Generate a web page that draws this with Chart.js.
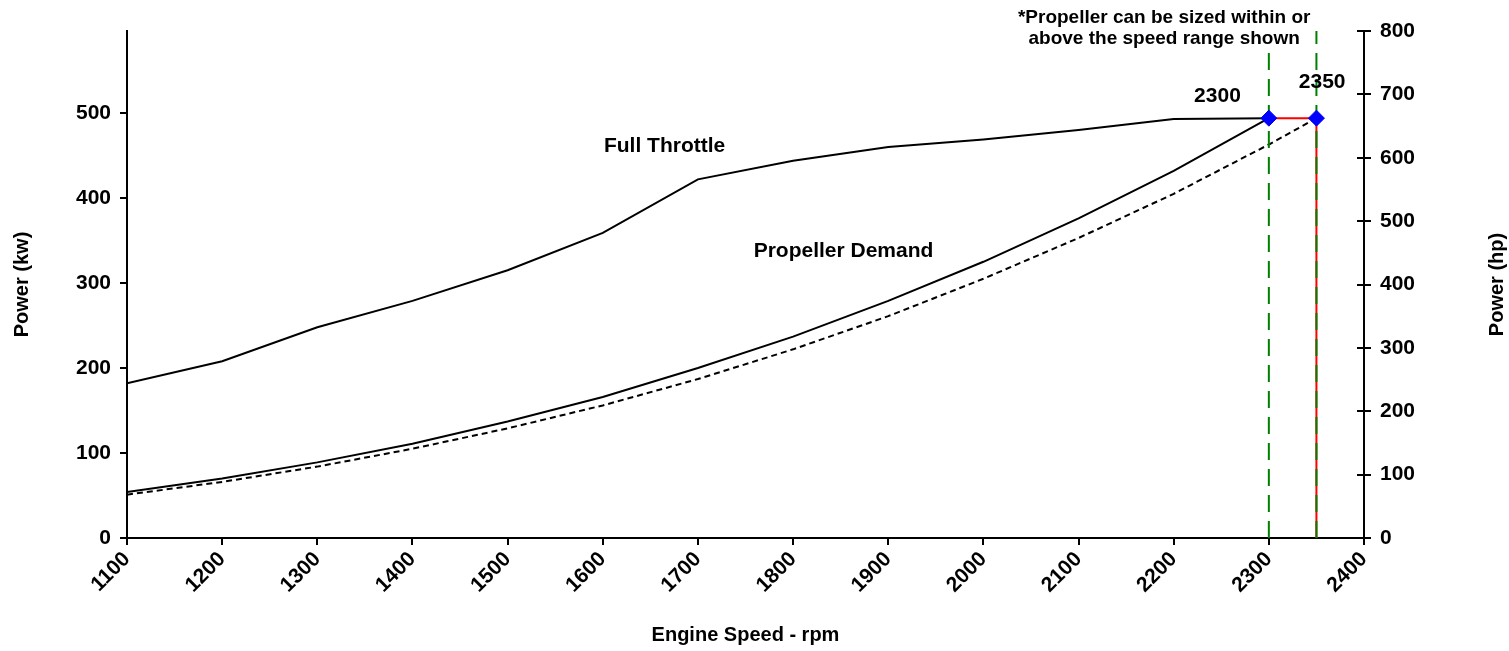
<!DOCTYPE html>
<html>
<head>
<meta charset="utf-8">
<title>Engine power curve</title>
<script src="https://cdn.jsdelivr.net/npm/chart.js@4/dist/chart.umd.min.js"></script>
<style>
    html, body { margin: 0; padding: 0; background: #fff; }
    #wrap { width: 1509px; height: 651px; }
</style>
</head>
<body>
<div id="wrap"><canvas id="chart" width="1509" height="651"></canvas></div>
<script>
// Engine speed (rpm) for the curves
const rpm = [1100, 1200, 1300, 1400, 1500, 1600, 1700, 1800, 1900, 2000, 2100, 2200, 2300];
const fullThrottleKw = [182, 208, 248, 279, 315, 359, 422, 444, 460, 469, 480, 493, 494];
const propDemandKw = [54, 70, 89, 111, 137, 166, 200, 237, 279, 325, 376, 432, 494];

// Propeller sized for 2350 rpm (dashed curve)
const propRpm2350 = [1100, 1200, 1300, 1400, 1500, 1600, 1700, 1800, 1900, 2000, 2100, 2200, 2300, 2350];
const propDemand2350Kw = [51, 66, 84, 105, 129, 156, 187, 222, 261, 305, 353, 405, 463, 494];

// Rated points and speed range limits
const ratedRpm = [2300, 2350];
const ratedKw = [494, 494];
const limitTopKw = [574, 597];

// Axis ticks
const xTicks = [1100, 1200, 1300, 1400, 1500, 1600, 1700, 1800, 1900, 2000, 2100, 2200, 2300, 2400];
const kwTicks = [0, 100, 200, 300, 400, 500];
const hpTicks = [0, 100, 200, 300, 400, 500, 600, 700, 800];
const KW_PER_HP = 0.7457;

const FONT = '"Liberation Sans", Arial, sans-serif';

function toPoints(xs, ys) {
    return xs.map((x, i) => ({ x: x, y: ys[i] }));
}

// Text placed in data coordinates
const textLabels = [
    { text: 'Full Throttle', rpm: 1665, kw: 461, size: 21 },
    { text: 'Propeller Demand', rpm: 1853, kw: 338, size: 21 },
    { text: '2300', rpm: 2246, kw: 520, size: 21 },
    { text: '2350', rpm: 2356, kw: 536, size: 21 },
    { text: '*Propeller can be sized within or', rpm: 2190, kw: 612, size: 19 },
    { text: 'above the speed range shown', rpm: 2190, kw: 588, size: 19 }
];

const overlayPlugin = {
    id: 'overlay',
    afterDraw(chart) {
        const ctx = chart.ctx;
        const area = chart.chartArea;
        const xs = chart.scales.x;
        const ys = chart.scales.y;
        const y2 = chart.scales.y2;

        ctx.save();
        // inner half of the right axis tick marks
        ctx.strokeStyle = '#000';
        ctx.lineWidth = 2;
        y2.ticks.forEach(t => {
            const py = Math.round(y2.getPixelForValue(t.value));
            ctx.beginPath();
            ctx.moveTo(area.right - 7, py);
            ctx.lineTo(area.right, py);
            ctx.stroke();
        });

        ctx.fillStyle = '#000';
        ctx.textAlign = 'center';
        ctx.textBaseline = 'middle';
        textLabels.forEach(l => {
            ctx.font = 'bold ' + l.size + 'px ' + FONT;
            ctx.fillText(l.text, xs.getPixelForValue(l.rpm), ys.getPixelForValue(l.kw));
        });

        // right axis title, reading bottom to top
        ctx.translate(1497, (area.top + area.bottom) / 2);
        ctx.rotate(-Math.PI / 2);
        ctx.font = 'bold 20px ' + FONT;
        ctx.fillText('Power (hp)', 0, 0);
        ctx.restore();
    }
};

const axisGrid = {
    display: true,
    drawOnChartArea: false,
    drawTicks: true,
    tickLength: 7,
    color: '#000',
    lineWidth: 2
};

const ctx = document.getElementById('chart').getContext('2d');
new Chart(ctx, {
    type: 'line',
    data: {
        datasets: [{
            label: 'Rated',
            data: toPoints(ratedRpm, ratedKw),
            showLine: false,
            pointStyle: 'rectRot',
            pointRadius: 8,
            pointBackgroundColor: '#0000FF',
            pointBorderColor: '#0000FF',
            pointBorderWidth: 1
        }, {
            label: 'Limit 2300',
            data: [{ x: ratedRpm[0], y: 0 }, { x: ratedRpm[0], y: limitTopKw[0] }],
            borderColor: '#008000',
            borderWidth: 2,
            borderDash: [17, 9],
            pointRadius: 0
        }, {
            label: 'Limit 2350',
            data: [{ x: ratedRpm[1], y: 0 }, { x: ratedRpm[1], y: limitTopKw[1] }],
            borderColor: '#008000',
            borderWidth: 2,
            borderDash: [17, 9],
            pointRadius: 0
        }, {
            label: 'Range',
            data: [{ x: ratedRpm[0], y: ratedKw[0] }, { x: ratedRpm[1], y: ratedKw[1] }, { x: ratedRpm[1], y: 0 }],
            borderColor: '#FF0000',
            borderWidth: 2,
            pointRadius: 0
        }, {
            label: 'Propeller Demand 2350',
            data: toPoints(propRpm2350, propDemand2350Kw),
            borderColor: '#000',
            borderWidth: 2,
            borderDash: [6, 4],
            pointRadius: 0
        }, {
            label: 'Propeller Demand',
            data: toPoints(rpm, propDemandKw),
            borderColor: '#000',
            borderWidth: 2,
            pointRadius: 0
        }, {
            label: 'Full Throttle',
            data: toPoints(rpm, fullThrottleKw),
            borderColor: '#000',
            borderWidth: 2,
            pointRadius: 0
        }]
    },
    options: {
        responsive: false,
        animation: false,
        events: [],
        layout: { padding: { top: 31, left: 0, right: 0, bottom: 0 } },
        elements: { line: { tension: 0, fill: false } },
        plugins: {
            legend: { display: false },
            tooltip: { enabled: false }
        },
        scales: {
            x: {
                type: 'linear',
                min: 1100,
                max: 2400,
                afterBuildTicks: s => { s.ticks = xTicks.map(v => ({ value: v })); },
                afterFit: s => { s.height = 113; },
                grid: axisGrid,
                border: { display: true, color: '#000', width: 2 },
                ticks: {
                    autoSkip: false,
                    minRotation: 45,
                    maxRotation: 45,
                    padding: 2,
                    color: '#000',
                    font: { family: FONT, size: 21, weight: 'bold' },
                    callback: v => String(v)
                },
                title: {
                    display: true,
                    text: 'Engine Speed - rpm',
                    color: '#000',
                    font: { family: FONT, size: 20, weight: 'bold' },
                    padding: { top: 0, bottom: 4 }
                }
            },
            y: {
                position: 'left',
                min: 0,
                max: 800 * KW_PER_HP,
                afterBuildTicks: s => { s.ticks = kwTicks.map(v => ({ value: v })); },
                afterFit: s => { s.width = 127; },
                grid: axisGrid,
                border: { display: true, color: '#000', width: 2 },
                ticks: {
                    padding: 9,
                    color: '#000',
                    font: { family: FONT, size: 21, weight: 'bold' }
                },
                title: {
                    display: true,
                    text: 'Power (kw)',
                    color: '#000',
                    font: { family: FONT, size: 20, weight: 'bold' },
                    padding: { top: 10, bottom: 0 }
                }
            },
            y2: {
                position: 'right',
                display: true,
                min: 0,
                max: 800,
                afterBuildTicks: s => { s.ticks = hpTicks.map(v => ({ value: v })); },
                afterFit: s => { s.width = 145; },
                grid: axisGrid,
                border: { display: true, color: '#000', width: 2 },
                ticks: {
                    padding: 9,
                    color: '#000',
                    font: { family: FONT, size: 21, weight: 'bold' }
                }
            }
        }
    },
    plugins: [overlayPlugin]
});
</script>
</body>
</html>
